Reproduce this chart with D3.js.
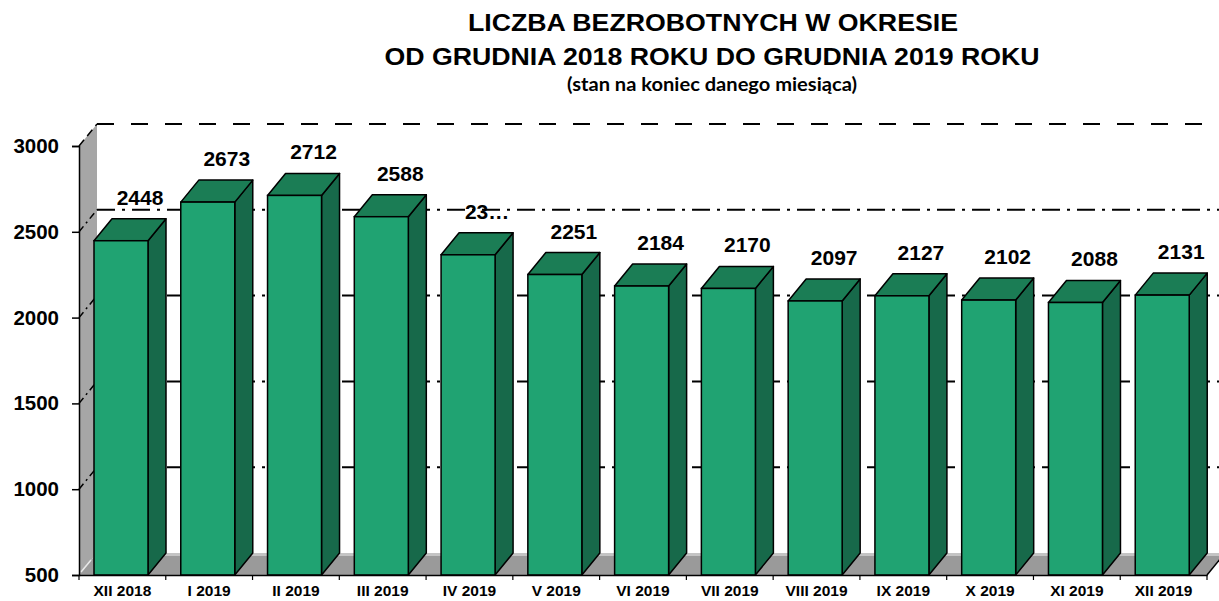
<!DOCTYPE html>
<html>
<head>
<meta charset="utf-8">
<script src="https://cdn.jsdelivr.net/npm/d3@7"></script>
<style>
  body { margin: 0; background: #fff; }
  svg text { font-family: "Liberation Sans", Arial, sans-serif; font-weight: bold; fill: #000; }
</style>
</head>
<body>
<div id="chart"></div>
<script>
const months = ['XII 2018', 'I 2019', 'II 2019', 'III 2019', 'IV 2019', 'V 2019', 'VI 2019',
    'VII 2019', 'VIII 2019', 'IX 2019', 'X 2019', 'XI 2019', 'XII 2019'];
const unemployed = [2448, 2673, 2712, 2588, 2366, 2251, 2184, 2170, 2097, 2127, 2102, 2088, 2131];
const valueLabels = ['2448', '2673', '2712', '2588', '23…', '2251', '2184', '2170', '2097', '2127', '2102', '2088', '2131'];
const yTicks = [500, 1000, 1500, 2000, 2500, 3000];

const width = 1219;
const height = 601;
const depthX = 18;
const depthY = -22;

const svg = d3.select('#chart')
    .append('svg')
    .attr('width', width)
    .attr('height', height);

// titles
svg.append('text').attr('x', 713).attr('y', 31).attr('text-anchor', 'middle')
    .attr('textLength', 490).attr('lengthAdjust', 'spacingAndGlyphs')
    .style('font-size', '24px').text('LICZBA BEZROBOTNYCH W OKRESIE');
svg.append('text').attr('x', 712).attr('y', 65).attr('text-anchor', 'middle')
    .attr('textLength', 655).attr('lengthAdjust', 'spacingAndGlyphs')
    .style('font-size', '24px').text('OD GRUDNIA 2018 ROKU DO GRUDNIA 2019 ROKU');
svg.append('text').attr('x', 712).attr('y', 91).attr('text-anchor', 'middle')
    .attr('textLength', 290).attr('lengthAdjust', 'spacingAndGlyphs')
    .style('font-family', 'Lato, "Open Sans", sans-serif')
    .style('font-size', '19px').text('(stan na koniec danego miesiąca)');

const x = d3.scaleBand()
    .domain(months)
    .range([79, 1207])
    .padding(0);

const y = d3.scaleLinear()
    .domain([500, 3000])
    .range([575, 146]);

const x0 = x.range()[0], x1 = x.range()[1];
const yBase = y(500);

// back wall gridlines
svg.selectAll('line.grid')
    .data(yTicks.filter(d => d > 500))
    .enter()
    .append('line')
    .attr('class', 'grid')
    .attr('x1', x0 + depthX)
    .attr('x2', x1 + depthX)
    .attr('y1', d => y(d) + depthY)
    .attr('y2', d => y(d) + depthY)
    .attr('stroke', '#000')
    .attr('stroke-width', 2)
    .attr('stroke-dasharray', d => d === 3000 ? '17,17' : '18,7,3,7');

// left wall
svg.append('polygon')
    .attr('points', [[x0, y(3000)], [x0 + depthX, y(3000) + depthY], [x0 + depthX, yBase + depthY], [x0, yBase]].join(' '))
    .attr('fill', '#a6a6a6');

svg.selectAll('line.wallgrid')
    .data(yTicks.filter(d => d > 500))
    .enter()
    .append('line')
    .attr('class', 'wallgrid')
    .attr('x1', x0).attr('y1', d => y(d))
    .attr('x2', x0 + depthX).attr('y2', d => y(d) + depthY)
    .attr('stroke', '#000')
    .attr('stroke-width', 1.5)
    .attr('stroke-dasharray', d => d === 3000 ? '8,5' : '7,4,2,4');

// floor
svg.append('polygon')
    .attr('points', [[x0, yBase], [x1, yBase], [x1 + depthX, yBase + depthY], [x0 + depthX, yBase + depthY]].join(' '))
    .attr('fill', '#9a9a9a');
svg.append('line')
    .attr('x1', x0 + depthX).attr('x2', x1 + depthX)
    .attr('y1', yBase + depthY + 1.5).attr('y2', yBase + depthY + 1.5)
    .attr('stroke', '#c4c4c4').attr('stroke-width', 3);
svg.append('line')
    .attr('x1', x0 + 2).attr('y1', yBase - 3)
    .attr('x2', x0 + 12).attr('y2', yBase - 15)
    .attr('stroke', '#e8e8e8').attr('stroke-width', 1.5);
svg.append('line')
    .attr('x1', x1).attr('y1', yBase)
    .attr('x2', x1 + depthX).attr('y2', yBase + depthY)
    .attr('stroke', '#000').attr('stroke-width', 1.5);

// bars
const barOffset = 15;
const barWidth = 54;
const bars = svg.selectAll('g.bar')
    .data(months.map((m, i) => ({ month: m, value: unemployed[i], label: valueLabels[i] })))
    .enter()
    .append('g')
    .attr('class', 'bar');

bars.each(function(d) {
    const g = d3.select(this);
    const bx0 = x(d.month) + barOffset;
    const bx1 = bx0 + barWidth;
    const top = y(d.value);
    g.append('polygon')
        .attr('points', [[bx1, top], [bx1 + depthX, top + depthY], [bx1 + depthX, yBase + depthY], [bx1, yBase]].join(' '))
        .attr('fill', '#17694a').attr('stroke', '#000').attr('stroke-width', 1.5).attr('stroke-linejoin', 'round');
    g.append('polygon')
        .attr('points', [[bx0, top], [bx0 + depthX, top + depthY], [bx1 + depthX, top + depthY], [bx1, top]].join(' '))
        .attr('fill', '#1b7d55').attr('stroke', '#000').attr('stroke-width', 1.5).attr('stroke-linejoin', 'round');
    g.append('rect')
        .attr('x', bx0).attr('y', top)
        .attr('width', barWidth).attr('height', yBase - top)
        .attr('fill', '#20a372').attr('stroke', '#000').attr('stroke-width', 1.5);
    g.append('text')
        .attr('x', bx0 + barWidth / 2 + depthX + 1)
        .attr('y', top - 36)
        .attr('text-anchor', 'middle')
        .style('font-size', '21px')
        .text(d.label);
});

// axes
const yAxis = d3.axisLeft(y).tickValues(yTicks).tickFormat(d3.format('d')).tickSize(7).tickPadding(13);
const yG = svg.append('g').attr('transform', `translate(${x0},0)`).call(yAxis);
yG.select('.domain').attr('stroke', '#000').attr('stroke-width', 1.5);
yG.selectAll('.tick line').attr('stroke', '#000').attr('stroke-width', 1.5);
yG.selectAll('.tick text').style('font-size', '20.5px').attr('font-family', null);

const xAxis = d3.axisBottom(x).tickSize(0).tickPadding(10);
const xG = svg.append('g').attr('transform', `translate(0,${yBase})`).call(xAxis);
xG.select('.domain').attr('stroke', '#000').attr('stroke-width', 1.5);
xG.selectAll('.tick text').style('font-size', '15.5px').attr('font-family', null);
xG.selectAll('line.sep')
    .data(d3.range(months.length + 1))
    .enter()
    .append('line')
    .attr('class', 'sep')
    .attr('x1', i => x0 + i * x.bandwidth())
    .attr('x2', i => x0 + i * x.bandwidth())
    .attr('y1', 0).attr('y2', 5)
    .attr('stroke', '#000').attr('stroke-width', 1.2);
</script>
</body>
</html>
